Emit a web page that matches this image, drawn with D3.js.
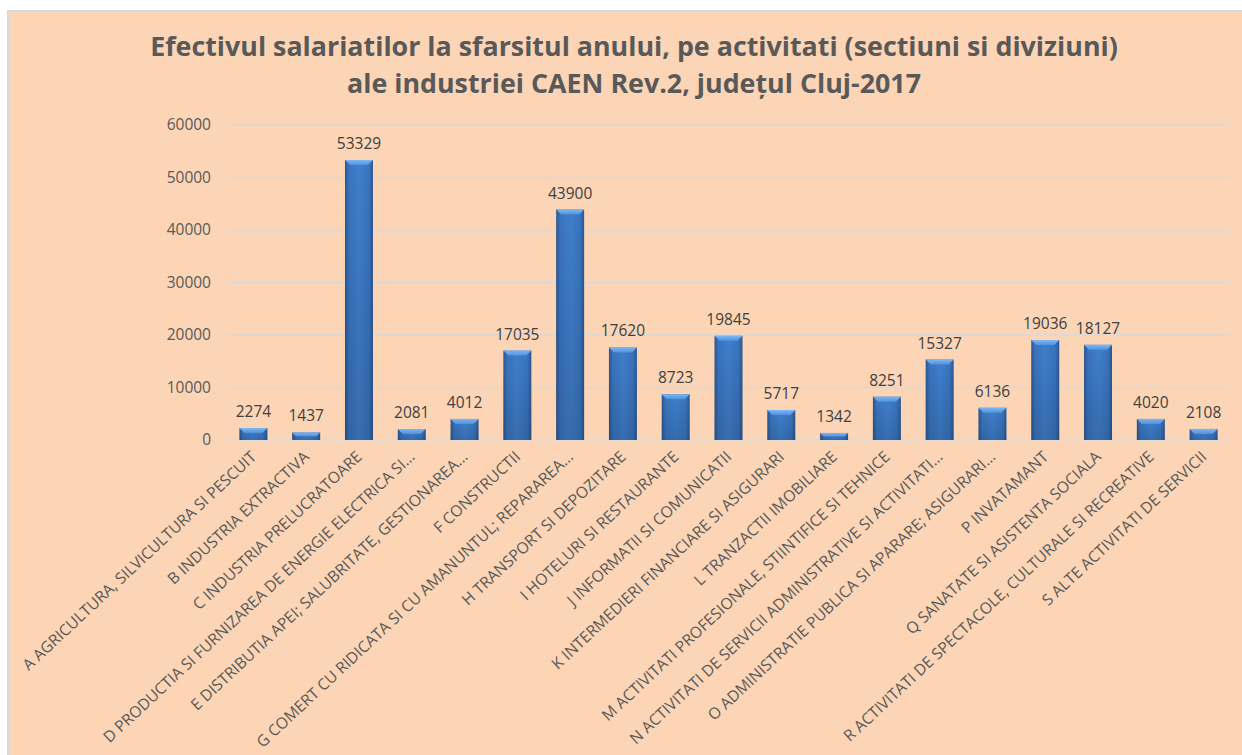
<!DOCTYPE html>
<html>
<head>
<meta charset="utf-8">
<script src="https://cdn.jsdelivr.net/npm/d3@7"></script>
<style>
  body { margin: 0; background: #fff; }
  svg { display: block; }
</style>
</head>
<body>
<div id="chart"></div>
<script>
const width = 1242, height = 755,
  margin = { top: 125, bottom: 315, left: 227, right: 12 },
  font = "'Open Sans', Lato, sans-serif";

const titleLines = [
  "Efectivul salariatilor la sfarsitul anului, pe activitati (sectiuni si diviziuni)",
  "ale industriei CAEN Rev.2, județul Cluj-2017"
];

const categories = [
  "A AGRICULTURA, SILVICULTURA SI PESCUIT",
  "B INDUSTRIA EXTRACTIVA",
  "C INDUSTRIA PRELUCRATOARE",
  "D PRODUCTIA SI FURNIZAREA DE ENERGIE ELECTRICA SI…",
  "E DISTRIBUTIA APEI; SALUBRITATE, GESTIONAREA…",
  "F CONSTRUCTII",
  "G COMERT CU RIDICATA SI CU AMANUNTUL; REPARAREA…",
  "H TRANSPORT SI DEPOZITARE",
  "I HOTELURI SI RESTAURANTE",
  "J INFORMATII SI COMUNICATII",
  "K INTERMEDIERI FINANCIARE SI ASIGURARI",
  "L TRANZACTII IMOBILIARE",
  "M ACTIVITATI PROFESIONALE, STIINTIFICE SI TEHNICE",
  "N ACTIVITATI DE SERVICII ADMINISTRATIVE SI ACTIVITATI…",
  "O ADMINISTRATIE PUBLICA SI APARARE; ASIGURARI…",
  "P INVATAMANT",
  "Q SANATATE SI ASISTENTA SOCIALA",
  "R ACTIVITATI DE SPECTACOLE, CULTURALE SI RECREATIVE",
  "S ALTE ACTIVITATI DE SERVICII"
];

const values = [2274, 1437, 53329, 2081, 4012, 17035, 43900, 17620, 8723, 19845,
  5717, 1342, 8251, 15327, 6136, 19036, 18127, 4020, 2108];

const yTicks = [0, 10000, 20000, 30000, 40000, 50000, 60000];

const data = categories.map((c, i) => ({ cat: c, value: values[i] }));

const svg = d3.select("#chart")
  .append("svg")
  .attr("width", width)
  .attr("height", height);

const defs = svg.append("defs");

const side = defs.append("linearGradient").attr("id", "barSide")
  .attr("x1", 0).attr("x2", 1).attr("y1", 0).attr("y2", 0);
side.append("stop").attr("offset", "0%").attr("stop-color", "#2b5592");
side.append("stop").attr("offset", "14%").attr("stop-color", "#3a74bd");
side.append("stop").attr("offset", "50%").attr("stop-color", "#3f7fcd");
side.append("stop").attr("offset", "86%").attr("stop-color", "#3a74bd");
side.append("stop").attr("offset", "100%").attr("stop-color", "#2b5592");

const shade = defs.append("linearGradient").attr("id", "barShade")
  .attr("x1", 0).attr("x2", 0).attr("y1", 0).attr("y2", 1);
shade.append("stop").attr("offset", "0%").attr("stop-color", "#000").attr("stop-opacity", 0);
shade.append("stop").attr("offset", "100%").attr("stop-color", "#000").attr("stop-opacity", 0.14);

const bevel = defs.append("linearGradient").attr("id", "barBevel")
  .attr("x1", 0).attr("x2", 0).attr("y1", 0).attr("y2", 1);
bevel.append("stop").attr("offset", "0%").attr("stop-color", "#7db6f2");
bevel.append("stop").attr("offset", "100%").attr("stop-color", "#4f92e0");

// background panel
svg.append("rect")
  .attr("x", 7).attr("y", 10)
  .attr("width", width - 7).attr("height", height - 10)
  .attr("fill", "#fbd5b5");
svg.append("path")
  .attr("d", `M8,${height} V11 H${width}`)
  .attr("fill", "none")
  .attr("stroke", "#d9d9d9")
  .attr("stroke-width", 2);

// title, sized so line 1 spans about 968px like the original
const title = svg.append("g").attr("class", "title")
  .attr("font-family", font)
  .attr("font-weight", "bold")
  .attr("fill", "#595959");
const titleText = title.selectAll("text")
  .data(titleLines)
  .join("text")
  .attr("x", 634)
  .attr("y", (d, i) => 56 + i * 37)
  .attr("text-anchor", "middle")
  .attr("font-size", 26)
  .text(d => d);
const tLen = titleText.node().getComputedTextLength();
titleText.attr("font-size", 26 * 968 / tLen);

const xScale = d3.scaleBand()
  .domain(categories)
  .range([margin.left, width - margin.right])
  .paddingInner(0.47)
  .paddingOuter(0.235);

const yScale = d3.scaleLinear()
  .domain([0, 60000])
  .range([height - margin.bottom, margin.top]);

// gridlines
svg.append("g")
  .selectAll("line")
  .data(yTicks)
  .join("line")
  .attr("x1", margin.left)
  .attr("x2", width - margin.right)
  .attr("y1", d => yScale(d))
  .attr("y2", d => yScale(d))
  .attr("stroke", "#d9d9d9")
  .attr("stroke-width", 1.5);

// y axis
const yAxis = d3.axisLeft(yScale).tickValues(yTicks).tickSize(0).tickPadding(16)
  .tickFormat(d3.format("d"));
svg.append("g")
  .attr("transform", `translate(${margin.left},0)`)
  .call(yAxis)
  .call(g => g.select(".domain").remove())
  .selectAll("text")
  .attr("font-family", font)
  .attr("font-size", 15.5)
  .attr("fill", "#595959");

// bars
const bars = svg.append("g")
  .selectAll("g.bar")
  .data(data)
  .join("g")
  .attr("class", "bar");

bars.append("rect")
  .attr("x", d => xScale(d.cat))
  .attr("y", d => yScale(d.value))
  .attr("width", xScale.bandwidth())
  .attr("height", d => yScale(0) - yScale(d.value))
  .attr("fill", "url(#barSide)");

bars.append("rect")
  .attr("x", d => xScale(d.cat))
  .attr("y", d => yScale(d.value))
  .attr("width", xScale.bandwidth())
  .attr("height", d => yScale(0) - yScale(d.value))
  .attr("fill", "url(#barShade)");

bars.append("path")
  .attr("d", d => {
    const x0 = xScale(d.cat), x1 = x0 + xScale.bandwidth(), y0 = yScale(d.value);
    const b = Math.min(5, (yScale(0) - y0) / 2);
    return `M${x0},${y0} H${x1} L${x1 - b},${y0 + b} H${x0 + b} Z`;
  })
  .attr("fill", "url(#barBevel)");

// value labels
bars.append("text")
  .attr("x", d => xScale(d.cat) + xScale.bandwidth() / 2)
  .attr("y", d => yScale(d.value) - 11)
  .attr("text-anchor", "middle")
  .attr("font-family", font)
  .attr("font-size", 15.5)
  .attr("fill", "#404040")
  .text(d => d.value);

// x labels, first label is about 313px long in the original
const xLabels = svg.append("g")
  .selectAll("text")
  .data(categories)
  .join("text")
  .attr("transform", d => `translate(${xScale(d) + xScale.bandwidth() / 2 + 4},${yScale(0) + 18}) rotate(-43)`)
  .attr("text-anchor", "end")
  .attr("font-family", font)
  .attr("font-size", 13)
  .attr("fill", "#595959")
  .text(d => d);
const lLen = xLabels.node().getComputedTextLength();
xLabels.attr("font-size", 13 * 313 / lLen);
</script>
</body>
</html>
